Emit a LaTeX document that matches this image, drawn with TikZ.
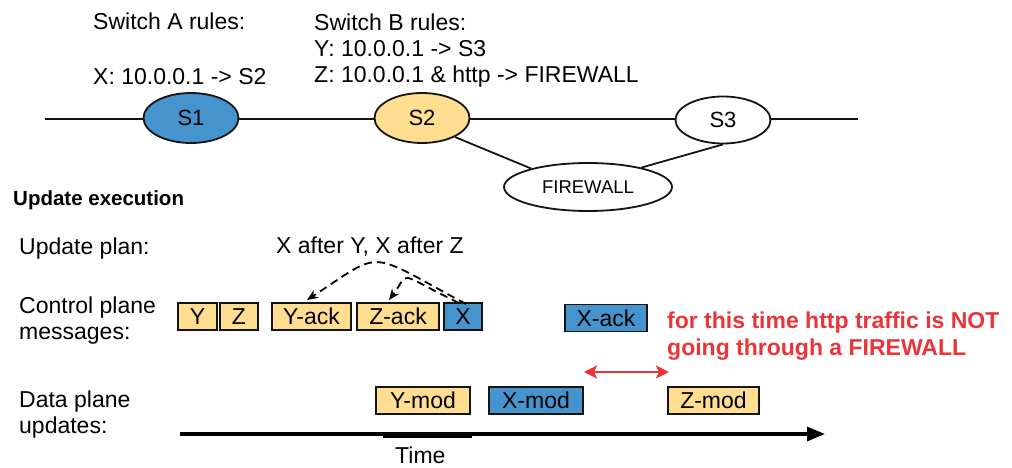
\documentclass[tikz,border=0pt]{standalone}
\usepackage{fontspec}
\setmainfont{Liberation Sans}
\usetikzlibrary{arrows.meta,shapes.geometric}
\definecolor{sblue}{RGB}{70,148,206}
\definecolor{syellow}{RGB}{255,222,146}
\definecolor{sred}{RGB}{236,52,56}
\definecolor{sline}{RGB}{20,20,20}
\tikzset{
  txt/.style={anchor=base west,inner sep=0pt,font=\fontsize{23}{26}\selectfont},
  sw/.style={ellipse,draw=sline,line width=1.8pt,inner sep=0pt,minimum width=95pt,minimum height=50pt,font=\fontsize{22}{26}\selectfont},
  msg/.style={rectangle,draw=sline,line width=1.8pt,inner sep=0pt,minimum height=27pt,font=\fontsize{23}{26}\selectfont},
  ybox/.style={msg,fill=syellow},
  bbox/.style={msg,fill=sblue},
  dep/.style={line width=1.8pt,dash pattern=on 8pt off 5pt,-{Stealth[length=11pt,width=9pt]}},
  link/.style={line width=1.8pt,sline},
}
\begin{document}
\begin{tikzpicture}[x=1pt,y=-1pt]
\useasboundingbox (0,0) rectangle (1012,468);
% network
\coordinate (L) at (45,119);
\coordinate (R) at (858,119);
\draw[link] (L) -- (R);
\node[sw,fill=sblue] (S1) at (191,118) {S1};
\node[sw,fill=syellow] (S2) at (422,118) {S2};
\node[sw,fill=white,minimum height=47pt] (S3) at (723,120) {S3};
\node[sw,fill=white,minimum width=168pt,minimum height=48pt,font=\fontsize{18.5}{22}\selectfont] (FW) at (588,187) {FIREWALL};
\draw[link] (S2.-30) -- (FW.162);
\draw[link] (FW.20) -- (S3.south);
% rules
\node[txt] (swa) at (93,30) {Switch A rules:};
\node[txt] (xr) at (93,85) {X: 10.0.0.1 -> S2};
\node[txt] (swb) at (314,31) {Switch B rules:};
\node[txt] (yr) at (314,57) {Y: 10.0.0.1 -> S3};
\node[txt] (zr) at (314,83) {Z: 10.0.0.1 \& http -> FIREWALL};
% labels
\node[anchor=base west,inner sep=0pt,font=\fontsize{20.5}{24}\selectfont\bfseries] (ue) at (13,205) {Update execution};
\node[txt] (up) at (19,254) {Update plan:};
\node[txt] (cp1) at (19,313) {Control plane};
\node[txt] (cp2) at (19,339) {messages:};
\node[txt] (dp1) at (19,407) {Data plane};
\node[txt] (dp2) at (19,433) {updates:};
\node[txt] (plan) at (276,253) {X after Y, X after Z};
% control plane messages
\node[ybox,minimum width=39pt] (Y) at (197.5,316.5) {Y};
\node[ybox,minimum width=38pt] (Z) at (239,316.5) {Z};
\node[ybox,minimum width=79pt] (Yack) at (311.5,316.5) {Y-ack};
\node[ybox,minimum width=82pt] (Zack) at (398,316.5) {Z-ack};
\node[bbox,minimum width=38pt] (X) at (463,316.5) {X};
\node[bbox,minimum width=82pt] (Xack) at (606,318) {X-ack};
% data plane
\node[ybox,minimum width=94pt] (Ymod) at (423,400.5) {Y-mod};
\node[bbox,minimum width=94pt] (Xmod) at (536,400.5) {X-mod};
\node[ybox,minimum width=91pt] (Zmod) at (713.5,400.5) {Z-mod};
% dependencies
\coordinate (s1) at (466,304);
\coordinate (s2) at (459,303);
\coordinate (t1) at (307,300);
\coordinate (t2) at (389,300);
\draw[dep] (s1) .. controls (365,250) and (385,249) .. (t1);
\draw[dep] (s2) .. controls (393,271) and (411,271) .. (t2);
% red note
\node[anchor=base west,inner sep=0pt,text=sred,font=\fontsize{23}{27}\selectfont\bfseries] (n1) at (667,328) {for this time http traffic is NOT};
\node[anchor=base west,inner sep=0pt,text=sred,font=\fontsize{23}{27}\selectfont\bfseries] (n2) at (667,355) {going through a FIREWALL};
\coordinate (ra) at (584,372);
\coordinate (rb) at (669,372);
\draw[sred,line width=2.8pt,{Stealth[length=13pt,width=13pt,inset=3pt]}-{Stealth[length=13pt,width=13pt,inset=3pt]}] (ra) -- (rb);
% time axis
\coordinate (ta) at (180,434);
\coordinate (tb) at (825,434);
\draw[line width=3.2pt,-{Triangle[length=18pt,width=14pt]}] (ta) -- (tb);
\coordinate (ma) at (383,436);
\coordinate (mb) at (472,436);
\draw[line width=3.2pt] (ma) -- (mb);
\node[txt] (time) at (395,463) {Time};
\end{tikzpicture}
\end{document}
